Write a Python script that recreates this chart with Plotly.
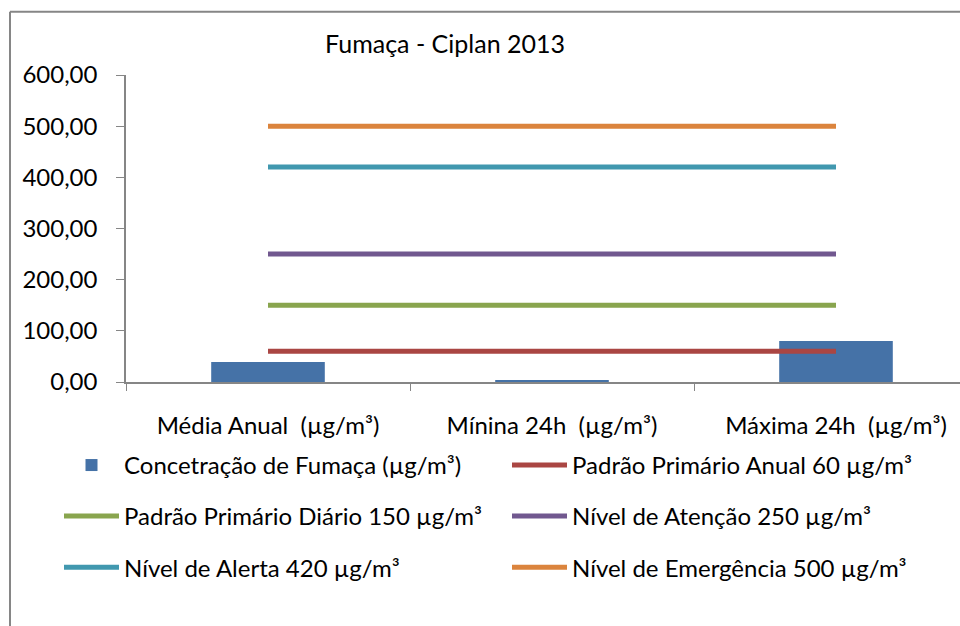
import plotly.graph_objects as go

categories = ["Média Anual\u00a0 (µg/m³)", "Mínina 24h\u00a0 (µg/m³)", "Máxima 24h\u00a0 (µg/m³)"]
concentracao = [39, 4, 80]

bar_name = "Concetração de Fumaça (µg/m³)"
line_names = [
    "Padrão Primário Anual 60 µg/m³",
    "Padrão Primário Diário 150 µg/m³",
    "Nível de Atenção 250 µg/m³",
    "Nível de Alerta 420 µg/m³",
    "Nível de Emergência 500 µg/m³",
]
line_values = [60, 150, 250, 420, 500]
line_colors = ["#AA4643", "#89A54E", "#71588F", "#4198AF", "#DB843D"]
bar_color = "#4572A7"

FONT = "Lato, Open Sans, sans-serif"
FS = 24
W, H = 960, 626
L, T = 126, 75.2
B_PX = 381.7
PW = W - L
PH = B_PX - T


def px_to_paper_x(px):
    return (px - L) / PW


def px_to_paper_y(py):
    return (B_PX - py) / PH


fig = go.Figure()

fig.add_trace(go.Bar(
    x=categories, y=concentracao, name=bar_name,
    marker=dict(color=bar_color, line=dict(width=0)),
    width=0.4, legend="legend",
))

legend_ids = ["legend", "legend2", "legend2", "legend3", "legend3"]
for name, val, col, lg in zip(line_names, line_values, line_colors, legend_ids):
    fig.add_trace(go.Scatter(
        x=categories, y=[val] * len(categories), name=name, mode="lines",
        line=dict(color=col, width=5), legend=lg,
    ))

legend_common = dict(
    orientation="h", entrywidth=378, entrywidthmode="pixels",
    itemwidth=55,
    font=dict(family=FONT, size=FS, color="#000000"),
    bgcolor="rgba(0,0,0,0)", xanchor="left", yanchor="middle",
    x=px_to_paper_x(59), itemsizing="constant",
)

fig.update_layout(
    width=W, height=H,
    margin=dict(l=L, r=0, t=T, b=H - B_PX, pad=0),
    paper_bgcolor="white", plot_bgcolor="white",
    separators=",.",
    font=dict(family=FONT, size=FS, color="#000000"),
    title=dict(text="Fumaça - Ciplan 2013", x=445 / W, xanchor="center",
               y=1 - 44 / H, yanchor="middle",
               font=dict(family=FONT, size=25, color="#000000")),
    bargap=0.6,
    showlegend=True,
    legend=dict(legend_common, y=px_to_paper_y(465)),
    legend2=dict(legend_common, y=px_to_paper_y(516)),
    legend3=dict(legend_common, y=px_to_paper_y(567)),
    xaxis=dict(
        range=[-0.5, -0.5 + PW / 284.0],
        showline=True, linecolor="#868686", linewidth=1.5,
        ticks="outside", tickson="boundaries", ticklen=7, tickcolor="#868686",
        showgrid=False, zeroline=False, ticklabelstandoff=21,
        tickfont=dict(family=FONT, size=FS, color="#000000"),
    ),
    yaxis=dict(
        range=[0, 600], dtick=100, tickformat=".2f",
        showline=True, linecolor="#868686", linewidth=1.5,
        ticks="outside", ticklen=8, tickcolor="#868686",
        showgrid=False, zeroline=False, ticklabelstandoff=14,
        tickfont=dict(family=FONT, size=FS, color="#000000"),
    ),
    shapes=[
        dict(type="line", xref="paper", yref="paper",
             x0=px_to_paper_x(10), x1=px_to_paper_x(962),
             y0=px_to_paper_y(12), y1=px_to_paper_y(12),
             line=dict(color="#868686", width=2)),
        dict(type="line", xref="paper", yref="paper",
             x0=px_to_paper_x(10), x1=px_to_paper_x(10),
             y0=px_to_paper_y(12), y1=px_to_paper_y(628),
             line=dict(color="#868686", width=2)),
    ],
)

fig.write_html("out.html",
               config={"displayModeBar": False},
               post_script="document.body.style.margin='0';document.body.style.overflow='hidden';")
